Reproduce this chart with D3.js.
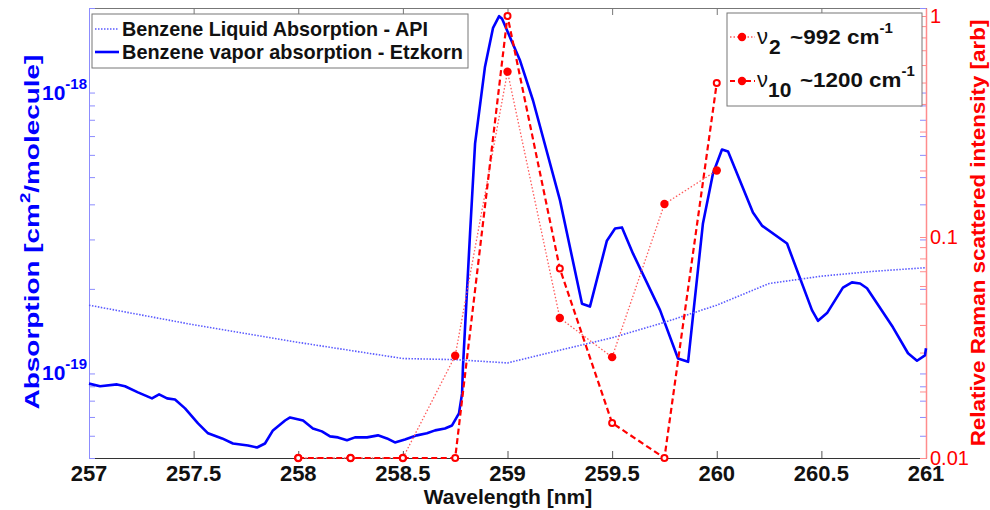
<!DOCTYPE html>
<meta charset="utf-8">
<script src="https://d3js.org/d3.v7.min.js"></script>
<style>
  body { margin: 0; background: #fff; }
  text { font-family: "Liberation Sans", Arial, sans-serif; }
</style>
<svg id="chart" width="990" height="510"></svg>
<script>
// Raman points (relative intensity, arb) on a 0.25 nm grid
var ramanWl = [258, 258.25, 258.5, 258.75, 259, 259.25, 259.5, 259.75, 260];
var nu2 = [0.01, 0.01, 0.01, 0.029, 0.56, 0.043, 0.0286, 0.141, 0.2];
var nu10 = [0.01, 0.01, 0.01, 0.01, 1.0, 0.072, 0.0144, 0.01, 0.497];

// liquid benzene absorption (API)
var liquidWl = [257, 257.5, 258, 258.5, 258.75, 259, 259.25, 259.5, 259.75, 260, 260.25, 260.5, 260.75, 261];
var liquidAbs = [1.75e-19, 1.49e-19, 1.29e-19, 1.13e-19, 1.12e-19, 1.09e-19, 1.21e-19, 1.34e-19, 1.52e-19,
                 1.75e-19, 2.09e-19, 2.22e-19, 2.31e-19, 2.38e-19];

// benzene vapor absorption (Etzkorn)
var vaporWl = [257.0, 257.053, 257.134, 257.172, 257.234, 257.301, 257.335, 257.373, 257.411, 257.459,
               257.521, 257.569, 257.636, 257.688, 257.760, 257.803, 257.841, 257.879, 257.937, 257.961,
               258.023, 258.070, 258.113, 258.152, 258.190, 258.233, 258.271, 258.329, 258.381, 258.424,
               258.462, 258.510, 258.567, 258.615, 258.654, 258.701, 258.735, 258.768, 258.783, 258.787,
               258.821, 258.845, 258.892, 258.931, 258.960, 258.974, 259.060, 259.122, 259.251, 259.356,
               259.394, 259.475, 259.514, 259.547, 259.600, 259.729, 259.815, 259.863, 259.934, 259.982,
               260.025, 260.054, 260.173, 260.216, 260.336, 260.455, 260.484, 260.527, 260.603, 260.646,
               260.685, 260.718, 260.842, 260.914, 260.957, 260.995, 261.0];
var vaporAbs = [9.2e-20, 9.0e-20, 9.14e-20, 9.0e-20, 8.56e-20, 8.15e-20, 8.42e-20, 8.15e-20, 8.08e-20, 7.51e-20,
                6.64e-20, 6.12e-20, 5.87e-20, 5.63e-20, 5.54e-20, 5.45e-20, 5.63e-20, 6.27e-20, 6.80e-20, 6.97e-20,
                6.80e-20, 6.37e-20, 6.22e-20, 5.97e-20, 5.92e-20, 5.78e-20, 5.92e-20, 5.92e-20, 6.02e-20, 5.87e-20,
                5.68e-20, 5.82e-20, 6.02e-20, 6.12e-20, 6.27e-20, 6.37e-20, 6.53e-20, 7.21e-20, 8.49e-20, 1.05e-19,
                3.15e-19, 6.58e-19, 1.23e-18, 1.70e-18, 1.87e-18, 1.83e-18, 1.30e-18, 9.37e-19, 4.13e-19, 1.77e-19,
                1.73e-19, 2.97e-19, 3.28e-19, 3.31e-19, 2.67e-19, 1.68e-19, 1.13e-19, 1.10e-19, 3.42e-19, 5.15e-19,
                6.27e-19, 6.17e-19, 3.74e-19, 3.36e-19, 2.90e-19, 1.68e-19, 1.54e-19, 1.64e-19, 2.02e-19, 2.11e-19,
                2.09e-19, 2.01e-19, 1.46e-19, 1.18e-19, 1.11e-19, 1.16e-19, 1.23e-19];

var xTicks = [257, 257.5, 258, 258.5, 259, 259.5, 260, 260.5, 261];
var absMajor = [1e-19, 1e-18];
var absMajorExp = ["-19", "-18"];
var ramTicks = [0.01, 0.1, 1];
var ramTickLabels = ["0.01", "0.1", "1"];

var margin = { top: 8, right: 64, bottom: 52, left: 89 },
    width = 990 - margin.left - margin.right,
    height = 510 - margin.top - margin.bottom;

var svg = d3.select("#chart");
var g = svg.append("g")
    .attr("transform", "translate(" + margin.left + "," + margin.top + ")");

var x = d3.scaleLinear().domain([257, 261]).range([0, width]);
var yAbs = d3.scaleLog().domain([5e-20, 2e-18]).range([height, 0]);
var yRam = d3.scaleLog().domain([0.01, 1.087]).range([height, 0]);

var blueAxis = "#8c8cff", redAxis = "#ff8c8c";

// stretch/shrink a text horizontally to a wanted width
function fitText(sel, target) {
    var w = sel.node().getBBox().width;
    sel.attr("transform", (sel.attr("transform") || "") + " scale(" + (target / w) + ",1)");
}

// ---- axes (frame + ticks) ----
g.append("g")
    .attr("transform", "translate(0," + height + ")")
    .call(d3.axisBottom(x).tickValues(xTicks).tickSizeInner(-7).tickSizeOuter(0).tickFormat(""))
    .call(a => a.select(".domain").attr("stroke", "#333"))
    .call(a => a.selectAll(".tick line").attr("stroke", "#555"));
g.append("g")
    .call(d3.axisTop(x).tickValues(xTicks).tickSizeInner(-7).tickSizeOuter(0).tickFormat(""))
    .call(a => a.select(".domain").attr("stroke", "#777"))
    .call(a => a.selectAll(".tick line").attr("stroke", "#777"));

g.append("g")
    .call(d3.axisLeft(yAbs).tickSizeInner(-6).tickSizeOuter(0).tickFormat(""))
    .call(a => a.select(".domain").attr("stroke", blueAxis))
    .call(a => a.selectAll(".tick line").attr("stroke", blueAxis));
g.append("g")
    .attr("transform", "translate(" + width + ",0)")
    .call(d3.axisRight(yAbs).tickSizeInner(-6).tickSizeOuter(0).tickFormat(""))
    .call(a => a.select(".domain").remove())
    .call(a => a.selectAll(".tick line").attr("stroke", blueAxis));
g.append("g")
    .attr("transform", "translate(" + width + ",0)")
    .call(d3.axisRight(yRam).tickSizeInner(-6).tickSizeOuter(0).tickFormat(""))
    .call(a => a.select(".domain").attr("stroke", redAxis).attr("stroke-width", 1.5))
    .call(a => a.selectAll(".tick line").attr("stroke", redAxis));

// x tick labels
xTicks.forEach(function (t) {
    g.append("text").attr("x", x(t)).attr("y", height + 23)
        .attr("text-anchor", "middle")
        .attr("font-size", 22).attr("font-weight", "bold").attr("fill", "#111")
        .text(String(t));
});

// left tick labels 10^n
absMajor.forEach(function (v, i) {
    var t = g.append("text").attr("x", -47).attr("y", yAbs(v) + 7)
        .attr("font-size", 21).attr("font-weight", "bold").attr("fill", "#0000ff");
    t.append("tspan").text("10");
    t.append("tspan").attr("dy", -11).attr("font-size", 15).text(absMajorExp[i]);
});

// right tick labels
ramTicks.forEach(function (v, i) {
    g.append("text").attr("x", width + 4).attr("y", yRam(v) + 7)
        .attr("font-size", 20).attr("fill", "#ff0000")
        .text(ramTickLabels[i]);
});

// axis titles
svg.append("text").attr("x", 508).attr("y", 504).attr("text-anchor", "middle")
    .attr("font-size", 21).attr("font-weight", "bold").attr("fill", "#111")
    .text("Wavelength [nm]");

var yl = svg.append("g").attr("transform", "translate(39,232) rotate(-90)")
    .append("text").attr("text-anchor", "middle")
    .attr("font-size", 21).attr("font-weight", "bold").attr("fill", "#0000ff");
yl.append("tspan").text("Absorption [cm");
yl.append("tspan").attr("dy", -9).attr("font-size", 14).text("2");
yl.append("tspan").attr("dy", 9).text("/molecule]");
fitText(yl, 355);

var yr = svg.append("g").attr("transform", "translate(985,233) rotate(-90)")
    .append("text").attr("text-anchor", "middle")
    .attr("font-size", 20).attr("font-weight", "bold").attr("fill", "#ff0000")
    .text("Relative Raman scattered intensity [arb]");
fitText(yr, 427);

// ---- data lines ----
var absLine = d3.line().x(d => x(d[0])).y(d => yAbs(d[1]));
var ramLine = d3.line().x(d => x(d[0])).y(d => yRam(d[1]));

g.append("path")
    .datum(vaporWl.map((w, i) => [w, vaporAbs[i]]))
    .attr("d", absLine).attr("fill", "none")
    .attr("stroke", "#0000ff").attr("stroke-width", 2.6).attr("stroke-linejoin", "round");
g.append("path")
    .datum(liquidWl.map((w, i) => [w, liquidAbs[i]]))
    .attr("d", absLine).attr("fill", "none")
    .attr("stroke", "#5a5aff").attr("stroke-width", 1.6).attr("stroke-dasharray", "1.5,1.5");

var nu2Data = ramanWl.map((w, i) => [w, nu2[i]]);
var nu10Data = ramanWl.map((w, i) => [w, nu10[i]]);

g.append("path").datum(nu2Data).attr("d", ramLine).attr("fill", "none")
    .attr("stroke", "#ff5a5a").attr("stroke-width", 1.3).attr("stroke-dasharray", "1.5,2");
g.append("path").datum(nu10Data).attr("d", ramLine).attr("fill", "none")
    .attr("stroke", "#ff0000").attr("stroke-width", 2.2).attr("stroke-dasharray", "6,3.5");

g.selectAll(".m2").data(nu2Data).enter().append("circle")
    .attr("cx", d => x(d[0])).attr("cy", d => yRam(d[1])).attr("r", 4.2).attr("fill", "#ff0000");
g.selectAll(".m10").data(nu10Data).enter().append("circle")
    .attr("cx", d => x(d[0])).attr("cy", d => yRam(d[1])).attr("r", 3)
    .attr("fill", "#fff").attr("stroke", "#ff0000").attr("stroke-width", 2);

// ---- legends ----
var lg1 = svg.append("g");
lg1.append("rect").attr("x", 92).attr("y", 14).attr("width", 376).attr("height", 54)
    .attr("fill", "#fff").attr("stroke", "#777");
lg1.append("line").attr("x1", 95).attr("x2", 119).attr("y1", 29).attr("y2", 29)
    .attr("stroke", "#5a5aff").attr("stroke-width", 1.6).attr("stroke-dasharray", "1.5,1.5");
lg1.append("line").attr("x1", 95).attr("x2", 119).attr("y1", 52).attr("y2", 52)
    .attr("stroke", "#0000ff").attr("stroke-width", 2.6);
var t1 = lg1.append("g").attr("transform", "translate(122,36)").append("text")
    .attr("font-size", 20).attr("font-weight", "bold").attr("fill", "#111")
    .text("Benzene Liquid Absorption - API");
fitText(t1, 306);
var t2 = lg1.append("g").attr("transform", "translate(122,59)").append("text")
    .attr("font-size", 20).attr("font-weight", "bold").attr("fill", "#111")
    .text("Benzene vapor absorption - Etzkorn");
fitText(t2, 341);

var lg2 = svg.append("g");
lg2.append("rect").attr("x", 727).attr("y", 13).attr("width", 195).attr("height", 93)
    .attr("fill", "#fff").attr("stroke", "#777");
lg2.append("line").attr("x1", 730).attr("x2", 755).attr("y1", 37).attr("y2", 37)
    .attr("stroke", "#ff5a5a").attr("stroke-width", 1.3).attr("stroke-dasharray", "1.5,2");
lg2.append("circle").attr("cx", 742).attr("cy", 37).attr("r", 4.2).attr("fill", "#ff0000");
lg2.append("line").attr("x1", 730).attr("x2", 755).attr("y1", 81).attr("y2", 81)
    .attr("stroke", "#ff0000").attr("stroke-width", 2.2).attr("stroke-dasharray", "5,3");
lg2.append("circle").attr("cx", 742).attr("cy", 81).attr("r", 4.2).attr("fill", "#ff0000");

function nuEntry(y, sub, subX, mainX, main, mainW) {
    lg2.append("text").attr("x", 757).attr("y", y + 7)
        .attr("font-size", 22).attr("fill", "#111").text("\u03bd");
    lg2.append("text").attr("x", subX).attr("y", y + 17)
        .attr("font-size", 21).attr("font-weight", "bold").attr("fill", "#111").text(sub);
    var mt = lg2.append("g").attr("transform", "translate(" + mainX + "," + (y + 7) + ")").append("text")
        .attr("font-size", 21).attr("font-weight", "bold").attr("fill", "#111");
    mt.append("tspan").text(main);
    mt.append("tspan").attr("dy", -11).attr("font-size", 14).text("-1");
    fitText(mt, mainW);
}
nuEntry(37, "2", 769, 790, "~992 cm", 103);
nuEntry(80, "10", 768, 800, "~1200 cm", 115);
</script>
